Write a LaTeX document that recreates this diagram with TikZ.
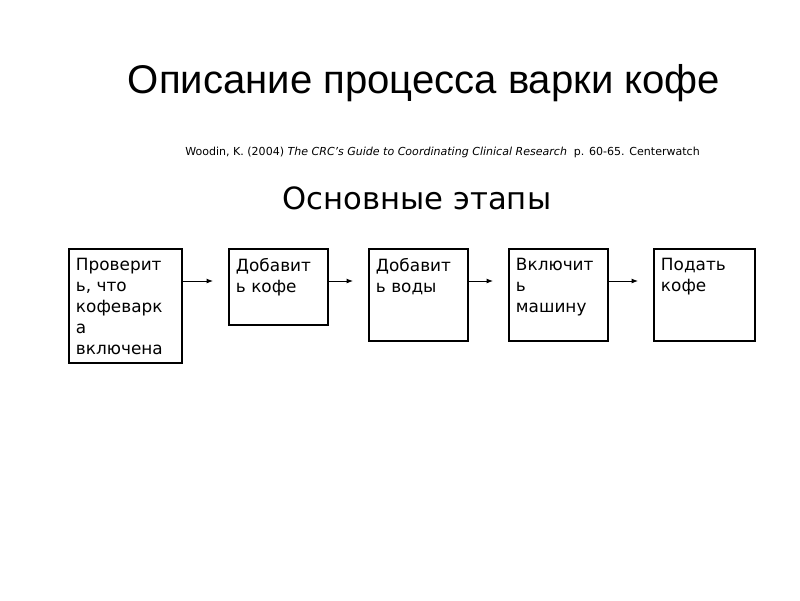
\documentclass[tikz,border=0pt]{standalone}
\usepackage{fontspec}
\setmainfont{DejaVu Sans}
\newfontfamily\titlefont{Liberation Sans}
\usetikzlibrary{arrows.meta, positioning}

\newcommand{\etaptext}[3]{\parbox[t][#2][t]{#1}{\raggedright #3}}

\begin{document}
\begin{tikzpicture}[
            x=0.025cm, y=-0.025cm,
            etap/.style={draw, line width=1.4pt, anchor=north west,
                    inner xsep=0.175cm, inner ysep=0.225cm,
                    font=\fontsize{12}{15}\selectfont},
            strelka/.style={-{Latex[length=4.5pt, width=3.5pt]}, line width=0.7pt,
                    shorten >=0.375cm},
            zagolovok/.style={font=\titlefont\fontsize{28.5}{34}\selectfont, anchor=base},
            podzag/.style={font=\fontsize{21.8}{26}\selectfont, anchor=base}
        ]
        \useasboundingbox (0,0) rectangle (800,600);

        % Titles
        \node[zagolovok] (title) at (424,93) {Описание процесса варки кофе};
        \node[font=\fontsize{7.85}{9}\selectfont, anchor=base west, inner sep=0pt] (ssylka) at (185,155)
            {Woodin, K. (2004) \textit{The CRC’s Guide to Coordinating Clinical Research}\ \ p. 60-65. Centerwatch};
        \node[podzag] (etapy) at (417,209) {Основные этапы};

        % Steps
        \node[etap] (prov) at (68,248)
            {\etaptext{2.475cm}{2.4cm}{Проверит\\ь, что\\кофеварк\\а\\включена}};
        \node[etap] (kofe) at (228,248)
            {\etaptext{2.125cm}{1.45cm}{Добавит\\ь кофе}};
        \node[etap] (voda) at (368,248)
            {\etaptext{2.125cm}{1.85cm}{Добавит\\ь воды}};
        \node[etap] (mash) at (508,248)
            {\etaptext{2.125cm}{1.85cm}{Включит\\ь\\машину}};
        \node[etap] (podat) at (653,248)
            {\etaptext{2.175cm}{1.85cm}{Подать\\кофе}};

        % Arrows
        \draw[strelka] ([yshift=-0.825cm]prov.north east) -- ([yshift=-0.825cm]kofe.north west);
        \draw[strelka] ([yshift=-0.825cm]kofe.north east) -- ([yshift=-0.825cm]voda.north west);
        \draw[strelka] ([yshift=-0.825cm]voda.north east) -- ([yshift=-0.825cm]mash.north west);
        \draw[strelka] ([yshift=-0.825cm]mash.north east) -- ([yshift=-0.825cm]podat.north west);

    \end{tikzpicture}
\end{document}
